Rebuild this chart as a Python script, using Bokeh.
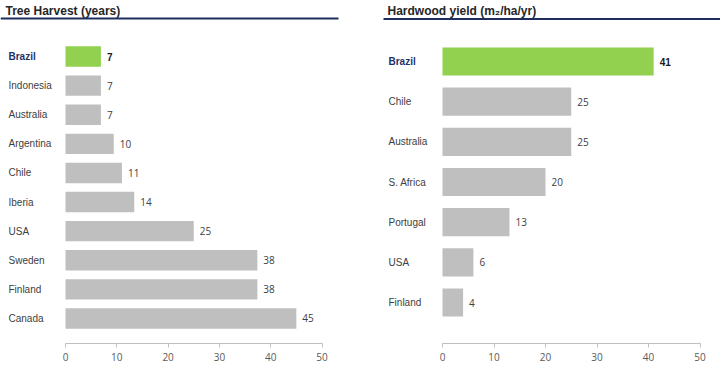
from bokeh.plotting import figure
from bokeh.layouts import row
from bokeh.models import Range1d, ColumnDataSource, FixedTicker
from bokeh.core.properties import value
from bokeh.embed import file_html
from bokeh.resources import INLINE

# ---- data ----
left_title = "Tree Harvest (years)"
left_countries = ["Brazil", "Indonesia", "Australia", "Argentina", "Chile",
                  "Iberia", "USA", "Sweden", "Finland", "Canada"]
left_years = [6.9, 6.9, 6.9, 9.4, 11.0, 13.4, 25.0, 37.4, 37.4, 45.0]   # bar lengths
left_labels = ["7", "7", "7", "10", "11", "14", "25", "38", "38", "45"]  # printed values

right_title = "Hardwood yield (m\u2082/ha/yr)"
right_countries = ["Brazil", "Chile", "Australia", "S. Africa", "Portugal", "USA", "Finland"]
right_yield = [41, 25, 25, 20, 13, 6, 4]
right_labels = ["41", "25", "25", "20", "13", "6", "4"]

x_ticks = [0, 10, 20, 30, 40, 50]

# ---- style ----
GREEN = "#92d050"
GREY = "#bfbfbf"
NAVY = "#1f3169"
LINE_NAVY = "#1f2d5c"
TXT = "#404040"
H = 367
BOTTOM = 24


def panel(title, cats, vals, labs, width, x0_px, ppu, first_row_px, row_px,
          label_px, title_px, line_px0, line_px1, title_y, line_y):
    frame_h = H - BOTTOM
    x_start = -x0_px / ppu
    x_end = (width - x0_px) / ppu
    y_top = -first_row_px / row_px
    y_bottom = (frame_h - first_row_px) / row_px

    def px_x(px):
        return (px - x0_px) / ppu

    def px_y(px):
        return (px - first_row_px) / row_px

    p = figure(width=width, height=H, output_backend="svg", toolbar_location=None,
               x_range=Range1d(x_start, x_end), y_range=Range1d(y_bottom, y_top),
               y_axis_location=None, min_border=0, min_border_left=0,
               min_border_right=0, min_border_top=0, min_border_bottom=BOTTOM)
    p.outline_line_color = None
    p.xgrid.visible = False
    p.ygrid.visible = False
    p.background_fill_color = "white"
    p.border_fill_color = "white"

    idx = list(range(len(cats)))
    colors = [GREEN] + [GREY] * (len(cats) - 1)
    src = ColumnDataSource(dict(y=idx, v=vals, c=colors))
    p.hbar(y="y", left=0, right="v", height=0.7, fill_color="c",
           line_color=None, source=src)

    first = ColumnDataSource(dict(y=idx[:1], v=vals[:1], cat=cats[:1], lab=labs[:1]))
    rest = ColumnDataSource(dict(y=idx[1:], v=vals[1:], cat=cats[1:], lab=labs[1:]))
    lx = px_x(label_px)
    # category labels
    p.text(x=lx, y="y", text="cat", source=first, text_font=value("Liberation Sans"),
           text_font_size="10px", text_font_style="bold", text_color=NAVY,
           text_baseline="middle", text_align="left")
    p.text(x=lx, y="y", text="cat", source=rest, text_font=value("Liberation Sans"),
           text_font_size="10px", text_color=TXT,
           text_baseline="middle", text_align="left")
    # value labels
    p.text(x="v", y="y", text="lab", source=first, x_offset=6,
           text_font=value("Liberation Sans"), text_font_size="10px",
           text_font_style="bold", text_color="#1a1a1a",
           text_baseline="middle", text_align="left")
    p.text(x="v", y="y", text="lab", source=rest, x_offset=6,
           text_font=value("Open Sans"), text_font_size="10px", text_color=TXT,
           text_baseline="middle", text_align="left")

    # title + underline
    p.text(x=[px_x(title_px)], y=[px_y(title_y)], text=[title],
           text_font=value("Liberation Sans"), text_font_size="12px",
           text_font_style="bold", text_color="#262626",
           text_baseline="middle", text_align="left")
    p.segment(x0=[px_x(line_px0)], x1=[px_x(line_px1)], y0=[px_y(line_y)],
              y1=[px_y(line_y)], line_color=LINE_NAVY, line_width=2)

    ax = p.xaxis[0]
    ax.ticker = FixedTicker(ticks=x_ticks)
    ax.bounds = (x_ticks[0], x_ticks[-1])
    ax.axis_line_color = GREY
    ax.major_tick_line_color = GREY
    ax.major_tick_out = 4
    ax.major_tick_in = 0
    ax.minor_tick_line_color = None
    ax.major_label_text_font = "Open Sans"
    ax.major_label_text_font_size = "10px"
    ax.major_label_text_color = "#595959"
    ax.major_label_standoff = 5
    return p


left = panel(left_title, left_countries, left_years, left_labels, width=380,
             x0_px=65, ppu=5.13, first_row_px=56, row_px=29.11, label_px=8,
             title_px=5, line_px0=0, line_px1=338, title_y=10, line_y=18)
right = panel(right_title, right_countries, right_yield, right_labels, width=340,
              x0_px=62, ppu=5.15, first_row_px=61, row_px=40.17, label_px=8,
              title_px=7, line_px0=3, line_px1=340, title_y=10, line_y=18.5)

layout = row(left, right)
open("out.html", "w").write(file_html(layout, INLINE))
